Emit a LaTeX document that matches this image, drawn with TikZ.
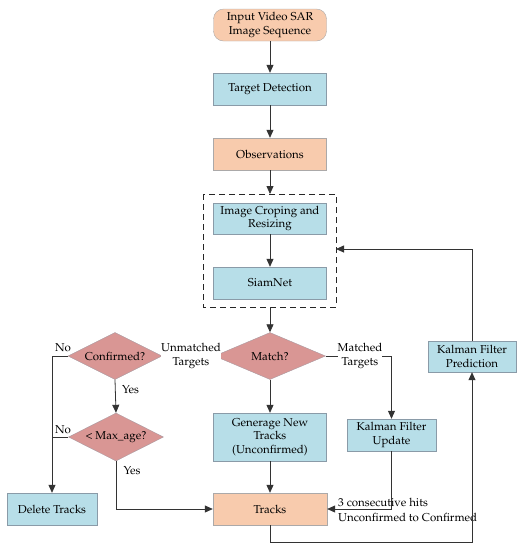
\documentclass[tikz,border=0pt]{standalone}
\usepackage[T1]{fontenc}
\usepackage{mathpazo}
\usepackage{tikz}
\usetikzlibrary{shapes.geometric,arrows.meta}
\definecolor{peach}{HTML}{F8CBAD}
\definecolor{skyb}{HTML}{B7DEE8}
\definecolor{rose}{HTML}{D99694}
\definecolor{rim}{HTML}{8A9BA8}

\begin{document}
\begin{tikzpicture}[x=1pt,y=-1pt,font=\fontsize{11.5}{13.5}\selectfont,
  proc/.style={rectangle,draw=rim,fill=skyb,minimum width=113pt,minimum height=32pt,align=center,inner sep=1pt},
  data/.style={proc,draw=rim!70!peach,fill=peach},
  test/.style={diamond,draw=rim!60!rose,fill=rose,minimum width=94pt,minimum height=47pt,inner sep=0pt,aspect=2},
  flow/.style={draw=black!80,line width=0.8pt,-{Triangle[length=8pt,width=7pt]}},
  lab/.style={fill=white,inner sep=0pt,align=center}]
\useasboundingbox (0,0) rectangle (524,550);

\node [data,rounded corners=10pt] (in) at (270,25) {Input Video SAR\\Image Sequence};
\node [proc] (det) at (270,89) {Target Detection};
\node [data] (obs) at (270,154) {Observations};
\node [proc,minimum height=31pt] (crop) at (270,218.5) {Image Croping and\\Resizing};
\node [proc] (siam) at (270,283) {SiamNet};
\draw [dash pattern=on 6pt off 4pt,line width=0.9pt,black!85] (203,194) rectangle (336,307);
\coordinate (boxtop) at (270,194);
\coordinate (boxbot) at (270,307);
\coordinate (boxin) at (336,249);

\node [test,minimum width=111pt] (match) at (270,356) {Match?};
\node [test] (conf) at (115,356) {Confirmed?};
\node [test,minimum width=95pt,minimum height=48pt] (age) at (116,437) {< Max\_age?};
\node [proc,minimum height=48pt] (gen) at (270,437) {Generage New\\Tracks\\(Unconfirmed)};
\node [proc,minimum width=89pt] (upd) at (391.5,435) {Kalman Filter\\Update};
\node [proc,minimum width=88pt,minimum height=31pt] (pred) at (472,356.5) {Kalman Filter\\Prediction};
\node [data,minimum width=114pt] (trk) at (270,509) {Tracks};
\node [proc,minimum width=90pt] (del) at (52,509) {Delete Tracks};

% main chain
\draw [flow] (in) -- (det);
\draw [flow] (det) -- (obs);
\draw [flow] (obs) -- (boxtop);
\draw [flow] (crop) -- (siam);
\draw [flow] (boxbot) -- (match);
\draw [flow] (match) -- (gen);
\draw [flow] (gen) -- (trk);

% matched / unmatched
\draw [flow] (match.east) -| (upd.north);
\node [lab] at (360,356) {Matched\\Targets};
\draw [flow] (match.west) -- (conf.east);
\node [lab] at (191,356) {Unmatched\\Targets};

% confirmed / age tests
\draw [flow] (conf.south) -- (age.north) node [pos=0.3,right=3pt] {Yes};
\draw [flow] (conf.west) -- (52,356) -- (del.north);
\node at (63,348) {No};
\draw [line width=0.8pt,black!80] (age.west) -- (52,437);
\node at (63,430) {No};
\draw [flow] (age.south) |- (trk.west);
\node at (132,471) {Yes};

% update back to tracks
\draw [flow] (upd.south) |- (trk.east);
\node [anchor=west,align=left,inner sep=0pt] at (338,510) {3 consecutive hits\\[1pt]Unconfirmed to Confirmed};

% prediction loop
\draw [flow] (trk.south) -- (270,542) -| (pred.south);
\draw [flow] (pred.north) |- (boxin);
\end{tikzpicture}
\end{document}
